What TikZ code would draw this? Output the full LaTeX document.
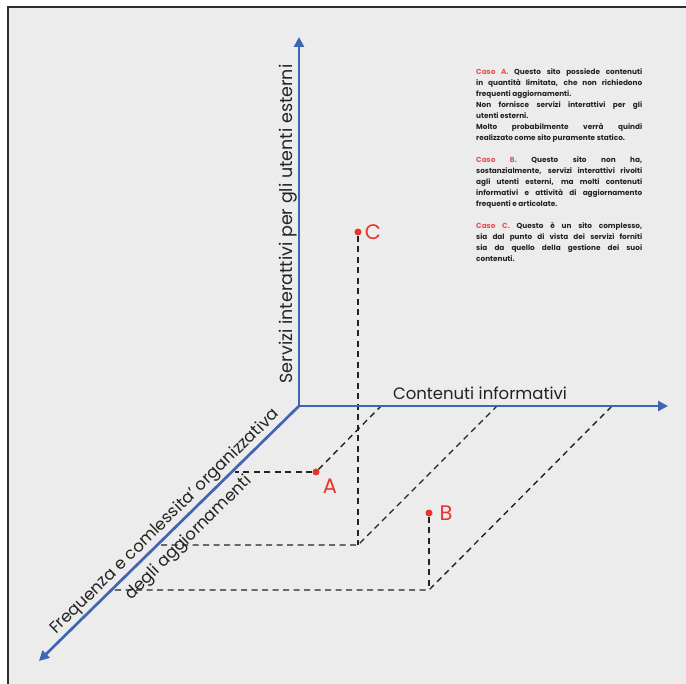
\documentclass[tikz,border=0pt]{standalone}
\usepackage{fontspec}
\setmainfont{Poppins}
\usetikzlibrary{arrows.meta}
\definecolor{axisblue}{RGB}{62,102,178}
\definecolor{ptred}{RGB}{232,52,44}
\definecolor{casored}{RGB}{232,80,80}
\definecolor{bgray}{RGB}{236,236,236}
\definecolor{framec}{RGB}{45,45,45}
\definecolor{txt}{RGB}{35,35,35}
\newcommand{\jline}[1]{\makebox[166pt][s]{#1}}
\newcommand{\casolab}[1]{{\color{casored}#1}}
\begin{document}
\begin{tikzpicture}[x=1pt,y=-1pt,
  axisline/.style={draw=axisblue,line width=2.7pt,-{Triangle[width=10pt,length=10pt]}},
  guide/.style={draw=txt,line width=1.4pt,dash pattern=on 6pt off 4.5pt},
  pt/.style={circle,fill=ptred,inner sep=0pt,minimum size=7pt},
  ptlab/.style={text=ptred,font=\fontsize{21}{25}\selectfont,inner sep=0pt},
  axlab/.style={text=txt,font=\fontsize{16.5}{20}\selectfont,inner sep=0pt}]
\useasboundingbox (0,0) rectangle (686,684);
\fill[white] (0,0) rectangle (686,684);
\fill[bgray] (8,7) rectangle (686,684);
\draw[framec,line width=2pt] (8,684) -- (8,7) -- (686,7);

% axes
\coordinate (O) at (299,406);
\coordinate (Ytip) at (299,37);
\coordinate (Xtip) at (668,406);
\coordinate (Ztip) at (39,661);

% points
\node[pt] (A) at (316,472) {};
\node[pt] (B) at (429,513) {};
\node[pt] (C) at (358,232) {};
\node[ptlab] (Alab) at (330,486) {A};
\node[ptlab] (Blab) at (446,513) {B};
\node[ptlab] (Clab) at (373,232) {C};

% guide corners
\coordinate (Az) at (235,472);
\coordinate (Ax) at (381,406);
\coordinate (Cc) at (358,545);
\coordinate (Cz) at (161,545);
\coordinate (Cx) at (497,406);
\coordinate (Bc) at (429,590);
\coordinate (Bz) at (115,590);
\coordinate (Bx) at (612,406);

\draw[guide] (A) -- (Az);
\draw[guide] (A) -- (Ax);
\draw[guide] (C) -- (Cc);
\draw[guide] (Cz) -- (Cc) -- (Cx);
\draw[guide] (B) -- (Bc);
\draw[guide] (Bz) -- (Bc) -- (Bx);

\draw[axisline] (O) -- (Ytip);
\draw[axisline] (O) -- (Xtip);
\draw[axisline] (O) -- (Ztip);

% axis labels
\node[axlab] (xlab) at (480,393) {Contenuti informativi};
\node[axlab,rotate=90,font=\fontsize{17.5}{20}\selectfont] (ylab) at (288,224) {Servizi interattivi per gli utenti esterni};
\node[axlab,rotate=44.5] (zlab1) at (165,522) {Frequenza e comlessita' organizzativa};
\node[axlab,rotate=44.5] (zlab2) at (189,538) {degli aggiornamenti};

% text block
\node[anchor=north west,inner sep=0pt,align=left,text=txt,
  font=\fontsize{7.3}{11}\selectfont\bfseries] (cases) at (476,68) {%
\jline{\casolab{Caso A.} Questo sito possiede contenuti}\\
\jline{in quantità limitata, che non richiedono}\\
frequenti aggiornamenti.\\
\jline{Non fornisce servizi interattivi per gli}\\
utenti esterni.\\
\jline{Molto probabilmente verrà quindi}\\
realizzato come sito puramente statico.\\[11pt]
\jline{\casolab{Caso B.} Questo sito non ha,}\\
\jline{sostanzialmente, servizi interattivi rivolti}\\
\jline{agli utenti esterni, ma molti contenuti}\\
\jline{informativi e attività di aggiornamento}\\
frequenti e articolate.\\[11pt]
\jline{\casolab{Caso C.} Questo è un sito complesso,}\\
\jline{sia dal punto di vista dei servizi forniti}\\
\jline{sia da quello della gestione dei suoi}\\
contenuti.};
\end{tikzpicture}
\end{document}
